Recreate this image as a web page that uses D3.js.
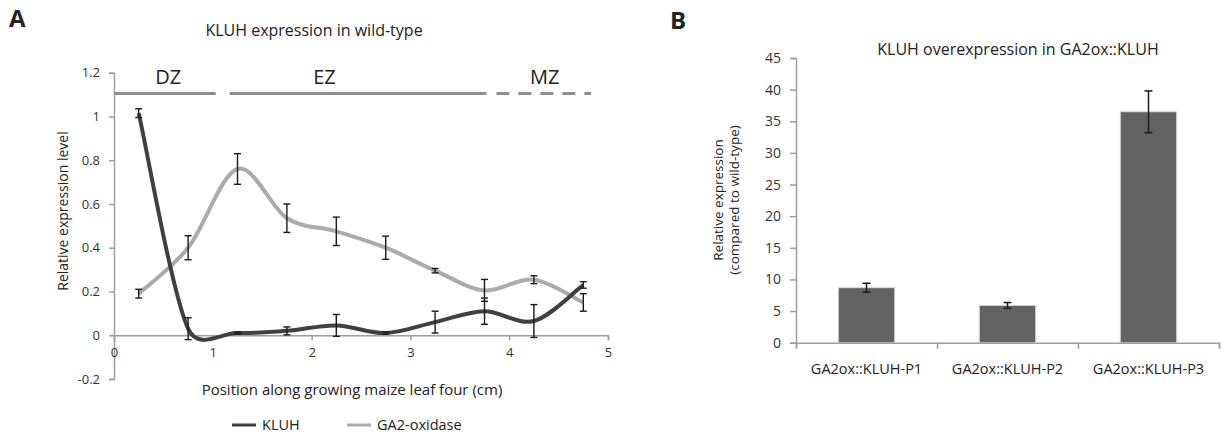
<!DOCTYPE html>
<html>
<head>
<meta charset="utf-8">
<script src="https://cdn.jsdelivr.net/npm/d3@7"></script>
<style>
  body { margin: 0; background: #fff; }
  svg text { font-family: "Open Sans", "DejaVu Sans", sans-serif; fill: #222; }
  .axis path, .axis line { stroke: #9e9e9e; stroke-width: 1.5; }
  .axis text { fill: #333; }
</style>
</head>
<body>
<div id="chart"></div>
<script>
// panel A: expression along the leaf
var positions = [0.25, 0.75, 1.25, 1.75, 2.25, 2.75, 3.25, 3.75, 4.25, 4.75];
var kluhMean = [1.015, 0.03, 0.01, 0.02, 0.045, 0.01, 0.06, 0.11, 0.065, 0.23];
var kluhErr = [0.02, 0.05, 0.005, 0.018, 0.05, 0.005, 0.05, 0.06, 0.075, 0.015];
var gaMean = [0.19, 0.40, 0.76, 0.535, 0.475, 0.40, 0.295, 0.205, 0.254, 0.15];
var gaErr = [0.02, 0.055, 0.07, 0.065, 0.065, 0.053, 0.01, 0.05, 0.018, 0.04];
var seriesNames = ['KLUH', 'GA2-oxidase'];

// leaf zones (cm)
var zoneNames = ['DZ', 'EZ', 'MZ'];
var zoneStart = [0, 1.17, 3.87];
var zoneEnd = [1.03, 3.77, 4.83];

// panel B: overexpression lines
var lines = ['GA2ox::KLUH-P1', 'GA2ox::KLUH-P2', 'GA2ox::KLUH-P3'];
var overMean = [8.7, 5.9, 36.5];
var overErr = [0.7, 0.45, 3.3];

var width = 1224, height = 439;
var svg = d3.select('#chart').append('svg')
  .attr('width', width)
  .attr('height', height);

var darkLine = '#404040', lightLine = '#ababab';

// ---------- panel A ----------
var xA = d3.scaleLinear().domain([0, 5]).range([114, 608]);
var yA = d3.scaleLinear().domain([-0.2, 1.2]).range([379, 72.7]);

svg.append('text').text('A')
  .attr('x', 9).attr('y', 27)
  .style('font-size', '24px').style('font-weight', 'bold');

svg.append('text').text('KLUH expression in wild-type')
  .attr('x', 314).attr('y', 36)
  .attr('text-anchor', 'middle')
  .style('font-size', '16px');

svg.append('g')
  .attr('class', 'axis')
  .attr('transform', 'translate(' + xA(0) + ',0)')
  .call(d3.axisLeft(yA).tickValues(yA.ticks(7)).tickSize(5).tickPadding(9)
    .tickFormat(function (d) { return String(+d.toFixed(1)); }))
  .call(function (g) { g.selectAll('text').style('font-size', '13px'); });

svg.append('g')
  .attr('class', 'axis')
  .attr('transform', 'translate(0,' + yA(0) + ')')
  .call(d3.axisBottom(xA).ticks(5).tickSize(5).tickPadding(8).tickSizeOuter(5))
  .call(function (g) { g.selectAll('text').style('font-size', '13px'); });

svg.append('text').text('Relative expression level')
  .attr('transform', 'translate(68,211) rotate(-90)')
  .attr('text-anchor', 'middle')
  .style('font-size', '14px');

svg.append('text').text('Position along growing maize leaf four (cm)')
  .attr('x', 352).attr('y', 395)
  .attr('text-anchor', 'middle')
  .style('font-size', '15px');

// zone bars
var zoneY = 1.105;
var zoneLabelX = [0.55, 2.13, 4.36];
zoneNames.forEach(function (z, i) {
  svg.append('line')
    .attr('x1', xA(zoneStart[i])).attr('x2', xA(zoneEnd[i]))
    .attr('y1', yA(zoneY)).attr('y2', yA(zoneY))
    .attr('stroke', '#8e8e8e').attr('stroke-width', 3)
    .attr('stroke-dasharray', z === 'MZ' ? '13,9' : null);
  svg.append('text').text(z)
    .attr('x', xA(zoneLabelX[i])).attr('y', 84)
    .attr('text-anchor', 'middle')
    .style('font-size', '20px');
});

// excel style smoothed line: bezier arms = (next - prev)/6,
// shortened when the segment is short so a steep drop doesn't overshoot much
function arm(a, b, seg) {
  var dx = (b[0] - a[0]) / 6, dy = (b[1] - a[1]) / 6;
  var len = Math.hypot(dx, dy) || 1;
  var s = Math.min(1, 0.5 * seg / len);
  return [dx * s, dy * s];
}
function smoothPath(pts) {
  var p = d3.path();
  p.moveTo(pts[0][0], pts[0][1]);
  for (var i = 0; i < pts.length - 1; i++) {
    var p0 = pts[i - 1] || pts[i], p1 = pts[i], p2 = pts[i + 1], p3 = pts[i + 2] || pts[i + 1];
    var seg = Math.hypot(p2[0] - p1[0], p2[1] - p1[1]);
    var a1 = arm(p0, p2, seg), a2 = arm(p1, p3, seg);
    p.bezierCurveTo(p1[0] + a1[0], p1[1] + a1[1], p2[0] - a2[0], p2[1] - a2[1], p2[0], p2[1]);
  }
  return p.toString();
}

function drawSeries(mean, err, color) {
  var pts = positions.map(function (p, i) { return [xA(p), yA(mean[i])]; });
  svg.append('path')
    .attr('d', smoothPath(pts))
    .attr('fill', 'none')
    .attr('stroke', color)
    .attr('stroke-width', 4);
  var eb = svg.append('g').attr('stroke', '#1a1a1a').attr('stroke-width', 1.4);
  positions.forEach(function (p, i) {
    var cx = xA(p), lo = yA(mean[i] - err[i]), hi = yA(mean[i] + err[i]);
    eb.append('line').attr('x1', cx).attr('x2', cx).attr('y1', lo).attr('y2', hi);
    eb.append('line').attr('x1', cx - 3.5).attr('x2', cx + 3.5).attr('y1', lo).attr('y2', lo);
    eb.append('line').attr('x1', cx - 3.5).attr('x2', cx + 3.5).attr('y1', hi).attr('y2', hi);
  });
}
drawSeries(gaMean, gaErr, lightLine);
drawSeries(kluhMean, kluhErr, darkLine);

// legend
var legendX = [232, 347];
seriesNames.forEach(function (s, i) {
  var lg = svg.append('g').attr('transform', 'translate(' + legendX[i] + ',425)');
  lg.append('line').attr('x1', 0).attr('x2', 24)
    .attr('stroke', i === 0 ? darkLine : lightLine).attr('stroke-width', 3);
  lg.append('text').text(s).attr('x', 30).attr('dy', '0.35em')
    .style('font-size', '14.5px');
});

// ---------- panel B ----------
var xB = d3.scaleBand().domain(lines).range([796, 1219]);
var yB = d3.scaleLinear().domain([0, 45]).range([342.7, 58]);

svg.append('text').text('B')
  .attr('x', 670).attr('y', 29)
  .style('font-size', '24px').style('font-weight', 'bold');

svg.append('text').text('KLUH overexpression in GA2ox::KLUH')
  .attr('x', 1018).attr('y', 55)
  .attr('text-anchor', 'middle')
  .style('font-size', '16px');

svg.append('g')
  .attr('class', 'axis')
  .attr('transform', 'translate(' + xB.range()[0] + ',0)')
  .call(d3.axisLeft(yB).ticks(9).tickSize(6).tickPadding(9))
  .call(function (g) { g.selectAll('text').style('font-size', '14px'); });

var barW = xB.bandwidth() * 0.4;
svg.append('g').selectAll('rect')
  .data(lines)
  .enter().append('rect')
  .attr('x', function (d) { return xB(d) + xB.bandwidth() / 2 - barW / 2; })
  .attr('y', function (d, i) { return yB(overMean[i]); })
  .attr('width', barW)
  .attr('height', function (d, i) { return yB(0) - yB(overMean[i]); })
  .attr('fill', '#636363')
  .attr('stroke', '#d8d8d8')
  .attr('stroke-width', 1);

// category axis: boundaries ticks + centered labels
var xBticks = d3.scaleLinear().domain([0, lines.length]).range(xB.range());
svg.append('g')
  .attr('class', 'axis')
  .attr('transform', 'translate(0,' + yB(0) + ')')
  .call(d3.axisBottom(xBticks).ticks(lines.length).tickSize(6).tickFormat(''));
svg.append('g')
  .attr('class', 'axis')
  .attr('transform', 'translate(0,' + yB(0) + ')')
  .call(d3.axisBottom(xB).tickSize(0).tickPadding(21))
  .call(function (g) {
    g.select('.domain').remove();
    g.selectAll('text').style('font-size', '14.5px').style('fill', '#222');
  });

var ebB = svg.append('g').attr('stroke', '#1a1a1a').attr('stroke-width', 1.5);
lines.forEach(function (d, i) {
  var cx = xB(d) + xB.bandwidth() / 2;
  var lo = yB(overMean[i] - overErr[i]), hi = yB(overMean[i] + overErr[i]);
  ebB.append('line').attr('x1', cx).attr('x2', cx).attr('y1', lo).attr('y2', hi);
  ebB.append('line').attr('x1', cx - 4).attr('x2', cx + 4).attr('y1', lo).attr('y2', lo);
  ebB.append('line').attr('x1', cx - 4).attr('x2', cx + 4).attr('y1', hi).attr('y2', hi);
});

var yTitle = svg.append('text')
  .attr('transform', 'translate(723,200) rotate(-90)')
  .attr('text-anchor', 'middle')
  .style('font-size', '13.5px');
yTitle.append('tspan').attr('x', 0).attr('dy', '0em').text('Relative expression');
yTitle.append('tspan').attr('x', 0).attr('dy', '1.15em').text('(compared to wild-type)');
</script>
</body>
</html>
